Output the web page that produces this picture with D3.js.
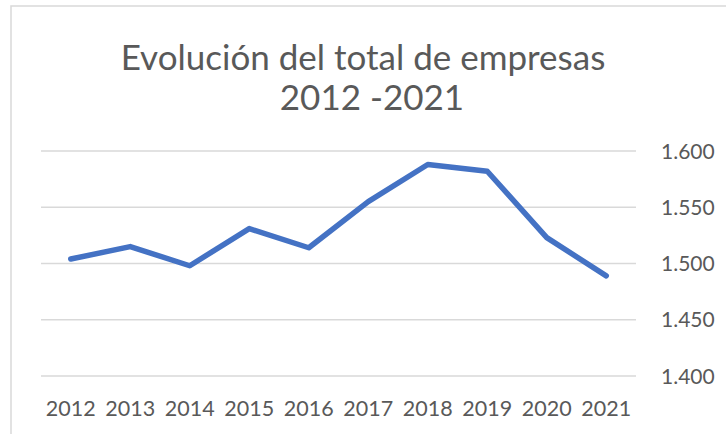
<!DOCTYPE html>
<html>
<head>
<meta charset="utf-8">
<script src="https://cdn.jsdelivr.net/npm/d3@7"></script>
<style>
  body { margin: 0; background: #fff; }
  text { font-family: Lato, "Open Sans", sans-serif; fill: #595959; }
</style>
</head>
<body>
<script>
var years = ["2012", "2013", "2014", "2015", "2016", "2017", "2018", "2019", "2020", "2021"];
var empresas = [1504, 1515, 1498, 1531, 1514, 1555, 1588, 1582, 1523, 1489];
var yTicks = [1400, 1450, 1500, 1550, 1600];
var titleLines = ["Evolución del total de empresas", "2012 -2021"];

var W = 726, H = 434;
var svg = d3.select("body").append("svg").attr("width", W).attr("height", H);

// chart frame (cropped on right and bottom)
svg.append("path")
  .attr("d", "M11,434 V6 H726")
  .attr("fill", "none")
  .attr("stroke", "#d9d9d9")
  .attr("stroke-width", 1.5);

var x = d3.scaleBand().domain(years).range([41, 636]);
var y = d3.scaleLinear().domain([1400, 1600]).range([376, 151]);

// gridlines
svg.append("g").selectAll("line")
  .data(yTicks).enter().append("line")
  .attr("x1", 41).attr("x2", 636)
  .attr("y1", function(d) { return y(d); })
  .attr("y2", function(d) { return y(d); })
  .attr("stroke", "#d9d9d9")
  .attr("stroke-width", 1.5);

// y labels on the right
var fmt = function(d) { return d3.format(",")(d).replace(",", "."); };
svg.append("g").selectAll("text")
  .data(yTicks).enter().append("text")
  .attr("x", 661)
  .attr("y", function(d) { return y(d); })
  .attr("dy", "0.36em")
  .style("font-size", "21px")
  .text(fmt);

// x labels
svg.append("g").selectAll("text")
  .data(years).enter().append("text")
  .attr("x", function(d) { return x(d) + x.bandwidth() / 2; })
  .attr("y", 416)
  .attr("text-anchor", "middle")
  .style("font-size", "21.5px")
  .text(function(d) { return d; });

// series line
var line = d3.line()
  .x(function(d, i) { return x(years[i]) + x.bandwidth() / 2; })
  .y(function(d) { return y(d); });

svg.append("path")
  .datum(empresas)
  .attr("d", line)
  .attr("fill", "none")
  .attr("stroke", "#4472c4")
  .attr("stroke-width", 5.5)
  .attr("stroke-linejoin", "round")
  .attr("stroke-linecap", "round");

// title
svg.append("text")
  .attr("x", 363).attr("y", 70)
  .attr("text-anchor", "middle")
  .style("font-size", "35px")
  .text(titleLines[0]);
svg.append("text")
  .attr("x", 372).attr("y", 110)
  .attr("text-anchor", "middle")
  .style("font-size", "35px")
  .text(titleLines[1]);
</script>
</body>
</html>
